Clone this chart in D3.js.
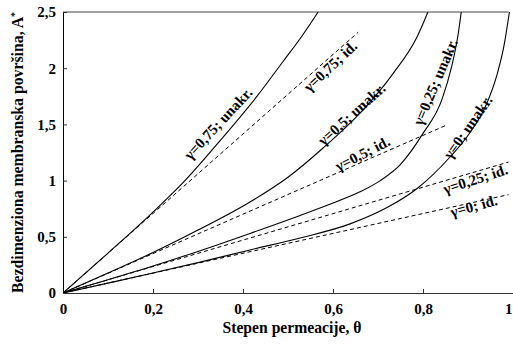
<!DOCTYPE html>
<html>
<head>
<meta charset="utf-8">
<script src="https://cdn.jsdelivr.net/npm/d3@7"></script>
<style>
  html, body { margin: 0; padding: 0; background: #fff; }
  svg { display: block; }
  text { font-family: "Liberation Serif", "Times New Roman", serif; font-weight: bold; fill: #000; }
</style>
</head>
<body>
<svg id="chart" width="513" height="346"></svg>
<script>
// ---- data ----
const xTicks = [0, 0.2, 0.4, 0.6, 0.8, 1];
const xTickLabels = ["0", "0,2", "0,4", "0,6", "0,8", "1"];
const yTicks = [0, 0.5, 1, 1.5, 2, 2.5];
const yTickLabels = ["0", "0,5", "1", "1,5", "2", "2,5"];

// "unakr." curves (solid): [theta, A*]
const unakr075 = [[0,0],[0.1,0.355],[0.2,0.72],[0.271,1.0],[0.35,1.36],[0.433,1.76],[0.489,2.06],[0.53,2.28],[0.567,2.5]];
const unakr050 = [[0,0],[0.1,0.178],[0.2,0.36],[0.3,0.56],[0.4156,0.81],[0.5,1.03],[0.578,1.29],[0.66,1.6],[0.70,1.78],[0.733,1.95],[0.787,2.28],[0.811,2.5]];
const unakr025 = [[0,0],[0.1,0.118],[0.2,0.24],[0.3,0.37],[0.4156,0.53],[0.527,0.69],[0.6,0.8],[0.66,0.9],[0.705,1.0],[0.749,1.14],[0.8,1.42],[0.842,1.72],[0.864,2.02],[0.878,2.3],[0.885,2.5]];
const unakr000 = [[0,0],[0.1,0.088],[0.2,0.178],[0.3,0.27],[0.4156,0.383],[0.527,0.49],[0.638,0.615],[0.72,0.76],[0.787,0.93],[0.86,1.21],[0.905,1.43],[0.94,1.67],[0.965,1.95],[0.98,2.2],[0.992,2.5]];

// "id." lines (dashed): [theta, A*]
const id075 = [[0,0],[0.656,2.32]];
const id050 = [[0,0],[0.853,1.495]];
const id025 = [[0,0],[0.99,1.165]];
const id000 = [[0,0],[0.99,0.875]];

// curve labels: text, anchor (theta, A*), angle
const labelTexts  = ["γ=0,75; unakr.", "γ=0,75; id.", "γ=0,5; unakr.", "γ=0,25; unakr.", "γ=0,5; id.", "γ=0; unakr.", "γ=0,25; id.", "γ=0; id."];
const labelTheta  = [0.353, 0.602, 0.649, 0.838, 0.671, 0.909, 0.92, 0.916];
const labelA      = [1.477, 1.984, 1.557, 1.86, 1.20, 1.45, 0.97, 0.73];
const labelAngle  = [-47, -43, -42, -67, -27, -55, -18, -15];

// ---- drawing ----
const svg = d3.select("#chart");
const W = 513, H = 346;
const m = { left: 63, right: 0, top: 12, bottom: 53 };

const x = d3.scaleLinear().domain([0, 1]).range([m.left, W - m.right]);
const y = d3.scaleLinear().domain([0, 2.5]).range([H - m.bottom, m.top]);

svg.append("defs").append("clipPath").attr("id", "plot")
  .append("rect").attr("x", x(0)).attr("y", y(2.5)).attr("width", x(1) - x(0)).attr("height", y(0) - y(2.5));

// top border
svg.append("line").attr("x1", x(0)).attr("x2", x(0.99)).attr("y1", y(2.5)).attr("y2", y(2.5))
  .attr("stroke", "#444").attr("stroke-width", 1);

// x axis
const xAxis = d3.axisBottom(x).tickValues(xTicks).tickSizeInner(-4).tickSizeOuter(0)
  .tickFormat((d, i) => xTickLabels[i]);
const gx = svg.append("g").attr("transform", `translate(0,${y(0)})`).call(xAxis);
gx.select(".domain").attr("stroke", "#333");
gx.selectAll(".tick line").attr("stroke", "#333");
gx.selectAll(".tick text").attr("dy", null).attr("y", 21)
  .style("font-family", '"Liberation Serif", serif').style("font-weight", "bold").style("font-size", "15px");
// last label sits at the right edge of the picture: keep it inside
gx.selectAll(".tick text").filter(d => d === 1).attr("text-anchor", "end").attr("x", -1);

// y axis
const yAxis = d3.axisLeft(y).tickValues(yTicks).tickSizeInner(-4).tickSizeOuter(0)
  .tickFormat((d, i) => yTickLabels[i]);
const gy = svg.append("g").attr("transform", `translate(${x(0)},0)`).call(yAxis);
gy.select(".domain").attr("stroke", "#000");
gy.selectAll(".tick line").attr("stroke", "#333");
gy.selectAll(".tick text").attr("x", -7)
  .style("font-family", '"Liberation Serif", serif').style("font-weight", "bold").style("font-size", "15px");

// curves
const line = d3.line().x(d => x(d[0])).y(d => y(d[1])).curve(d3.curveMonotoneX);
const plot = svg.append("g").attr("clip-path", "url(#plot)");

[unakr075, unakr050, unakr025, unakr000].forEach(s => {
  plot.append("path").datum(s).attr("d", line)
    .attr("fill", "none").attr("stroke", "#000").attr("stroke-width", 1.1);
});
[id075, id050, id025, id000].forEach(s => {
  plot.append("path").datum(s).attr("d", line)
    .attr("fill", "none").attr("stroke", "#000").attr("stroke-width", 1)
    .attr("stroke-dasharray", "4,3");
});

// labels
labelTexts.forEach((t, i) => {
  const px = x(labelTheta[i]), py = y(labelA[i]);
  svg.append("text")
    .attr("transform", `translate(${px},${py}) rotate(${labelAngle[i]})`)
    .attr("text-anchor", "middle")
    .style("font-size", "15px")
    .text(t);
});

// axis titles
svg.append("text")
  .attr("x", 292).attr("y", 333)
  .attr("text-anchor", "middle")
  .attr("textLength", 139).attr("lengthAdjust", "spacingAndGlyphs")
  .style("font-size", "16px")
  .text("Stepen permeacije, θ");

const yt = svg.append("text")
  .attr("transform", `translate(23,${(y(0) + y(2.5)) / 2}) rotate(-90)`)
  .attr("text-anchor", "middle")
  .attr("textLength", 281).attr("lengthAdjust", "spacingAndGlyphs")
  .style("font-size", "16px");
yt.append("tspan").text("Bezdimenziona membranska površina, A");
yt.append("tspan").attr("baseline-shift", "super").style("font-size", "10px").text("*");
</script>
</body>
</html>
